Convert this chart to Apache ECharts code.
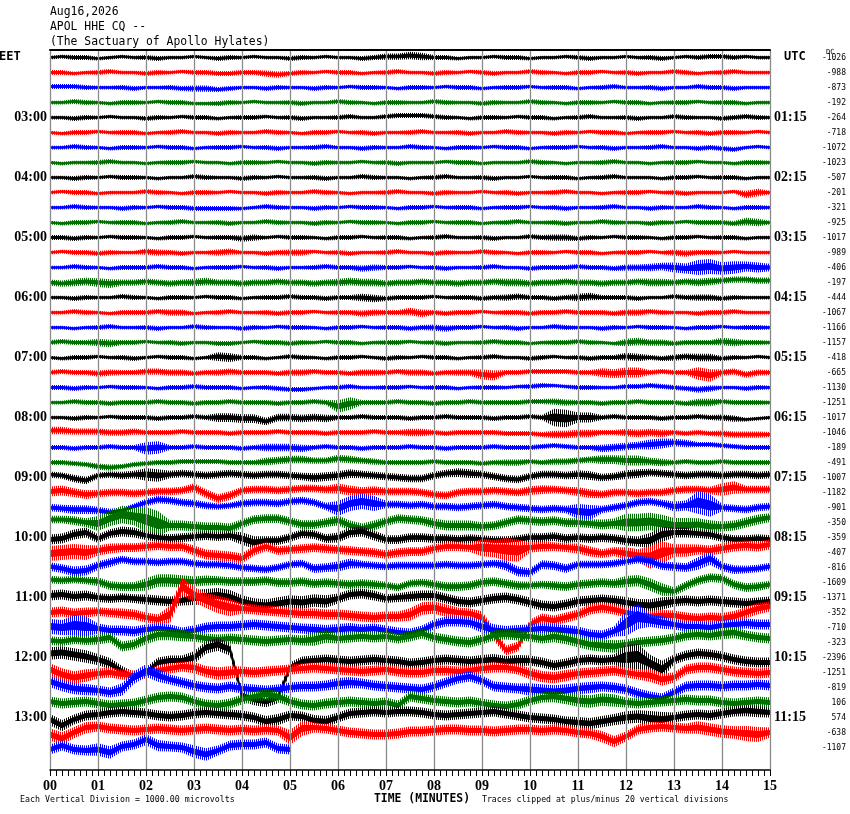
<!DOCTYPE html>
<html>
<head>
<meta charset="utf-8">
<script src="https://cdn.jsdelivr.net/npm/echarts@6/dist/echarts.min.js"></script>
<style>
  html, body { margin: 0; padding: 0; background: #fff; }
  #main { width: 850px; height: 814px; }
</style>
</head>
<body>
<div id="main"></div>
<script>
// helicorder APOL HHE, 15 minute lines, 47 traces from 02:00 EET
var minuteLabels = ['00','01','02','03','04','05','06','07','08','09','10','11','12','13','14','15'];
var eetHours = ['03:00','04:00','05:00','06:00','07:00','08:00','09:00','10:00','11:00','12:00','13:00'];
var utcHours = ['01:15','02:15','03:15','04:15','05:15','06:15','07:15','08:15','09:15','10:15','11:15'];
var dcOffsets = [-1026,-988,-873,-192,-264,-718,-1072,-1023,-507,-201,-321,-925,-1017,-989,-406,-197,
  -444,-1067,-1166,-1157,-418,-665,-1130,-1251,-1017,-1046,-189,-491,-1007,-1182,-901,-350,
  -359,-407,-816,-1609,-1371,-352,-710,-323,-2396,-1251,-819,106,574,-638,-1107];
var traceColors = ['#000000', '#ff0000', '#0000ff', '#006e00'];

// trace centre line, one value every 15 s (screen px, + = down)
var traceMid = [
  [0,-1,0,0,1,0,-1,0,0,1,0,0,-1,0,1,0,0,-1,0,0,1,0,0,-1,0,0,1,0,-1,-1,-2,-1,0,0,1,0,0,-1,0,0,1,0,0,-1,0,1,0,0,-1,0,0,1,0,-1,0,-1,-1,0,-1,0,0],
  [0,0,1,0,0,-1,0,0,1,0,0,-1,0,0,1,1,0,0,1,2,1,0,0,-1,0,0,1,0,0,-1,0,0,1,0,0,-1,0,1,0,0,-1,0,0,1,0,0,-1,0,0,1,0,0,-1,0,1,0,0,-1,0,0,0],
  [-1,-1,-1,0,0,0,0,1,0,0,0,1,1,1,2,1,0,0,1,0,0,0,1,0,0,-1,0,0,0,1,0,0,0,-1,0,0,1,0,0,0,-1,0,0,0,1,0,0,-1,0,0,0,1,0,0,-1,0,0,1,0,0,0],
  [0,0,-1,0,0,1,0,0,0,-1,0,0,1,1,1,0,0,-1,0,0,0,1,0,0,-1,0,0,1,0,0,0,0,-1,0,0,0,1,0,0,0,-1,0,0,1,0,0,0,-1,0,0,1,0,0,0,-1,0,0,0,1,0,0],
  // 03:00
  [0,0,1,0,0,-1,0,0,1,0,0,-1,0,0,1,0,0,0,-1,0,0,1,0,0,0,-1,0,0,-1,-2,-2,-2,-1,0,0,1,0,0,0,-1,0,0,1,0,0,-1,0,0,0,1,0,0,-1,0,0,0,1,0,-1,0,0],
  [0,1,0,0,-1,0,0,0,1,0,0,-1,0,0,1,0,0,0,-1,0,0,1,0,0,-1,0,0,1,0,0,0,-1,0,0,0,1,0,0,-1,0,0,0,1,0,0,-1,0,0,1,0,0,0,-1,0,0,1,0,0,0,-1,0],
  [0,0,-1,0,0,1,0,0,0,-1,0,0,1,0,0,0,-1,0,0,1,0,0,0,-1,0,0,1,0,0,0,-1,0,0,1,0,0,0,-1,0,0,1,0,0,0,-1,0,0,1,0,0,0,-1,0,0,1,0,1,2,0,-1,0],
  [0,1,0,0,0,-1,0,0,1,0,0,0,-1,0,0,1,0,0,0,-1,0,0,1,0,0,0,-1,0,0,1,0,0,0,-1,0,0,1,0,0,0,-1,0,0,1,0,0,0,-1,0,0,1,0,0,0,-1,0,0,1,0,0,0],
  // 04:00
  [0,0,1,0,0,-1,0,0,0,1,0,0,-1,0,0,0,1,0,0,-1,0,0,0,1,0,0,-1,0,0,0,1,0,0,-1,0,0,0,1,0,0,-1,0,0,0,1,0,0,-1,0,0,0,1,0,0,-1,0,0,0,1,0,0],
  [0,-1,0,0,1,0,0,0,-1,0,0,1,0,0,0,-1,0,0,1,0,0,0,-1,0,0,1,0,0,0,-1,0,0,1,0,0,0,-1,0,0,1,0,0,0,-1,0,0,1,0,0,0,-1,0,0,1,0,0,0,-1,2,0,0],
  [0,0,-1,0,0,0,1,0,0,-1,0,0,1,1,1,1,1,0,-1,0,0,0,1,0,0,-1,0,0,0,1,0,0,-1,0,0,0,1,0,0,0,-1,0,0,1,0,0,0,-1,0,0,1,0,0,0,-1,0,0,1,0,0,0],
  [0,1,0,0,-1,0,0,0,1,0,0,-1,0,0,0,1,0,0,-1,0,0,0,1,0,0,-1,0,0,0,1,0,0,-1,0,0,0,1,0,0,-1,0,0,0,1,0,0,-1,0,0,0,1,0,0,-1,0,0,0,1,-1,0,0],
  // 05:00
  [0,0,1,0,0,-1,0,0,0,1,0,0,-1,0,0,0,1,0,0,-1,0,0,0,1,0,0,-1,0,0,0,1,0,0,-1,0,0,0,1,0,0,-1,0,0,0,1,0,0,-1,0,0,0,1,0,0,-1,0,0,0,1,0,0],
  [0,-1,0,0,1,0,0,0,-1,0,0,1,0,0,0,-1,0,0,1,0,0,0,-1,0,0,1,0,0,0,-1,0,0,1,0,0,0,-1,0,0,1,0,0,0,-1,0,0,1,0,0,0,-1,0,0,1,0,0,0,-1,0,0,0],
  [0,0,-1,0,0,1,0,0,0,-1,0,0,1,0,0,0,-1,0,0,1,0,0,0,-1,0,0,1,0,0,0,-1,0,0,1,0,0,0,-1,0,0,1,0,0,0,-1,0,0,1,0,0,0,-1,0,1,0,-1,1,0,-1,0,0],
  [0,1,0,-1,0,1,0,0,-1,0,1,0,0,-1,0,0,1,0,0,-1,0,0,1,0,0,-1,0,0,1,0,0,-1,0,0,1,0,0,-1,0,0,1,0,0,-1,0,0,1,0,0,-1,0,0,0,-1,0,-1,-2,-3,-3,-2,-2],
  // 06:00
  [0,0,1,0,0,0,-1,0,0,1,0,0,0,-1,0,0,1,0,0,0,-1,0,0,1,0,0,0,1,1,0,0,0,-1,0,0,0,1,0,0,-1,0,0,1,0,0,-1,0,0,0,1,0,0,-1,0,0,0,1,0,0,0,0],
  [0,0,-1,0,0,1,0,0,0,-1,0,0,1,0,0,-1,0,0,0,1,0,0,-1,0,0,0,1,0,0,0,-1,1,0,1,0,0,-1,0,0,0,1,0,0,-1,0,0,0,1,0,0,-1,0,0,0,1,0,0,-1,0,0,0],
  [0,0,1,0,0,-1,0,0,0,1,0,0,-1,0,0,0,1,0,0,-1,0,0,0,1,0,0,-1,0,0,0,1,0,0,1,0,0,-1,0,0,1,0,0,-1,0,0,0,1,0,0,-1,0,0,0,1,0,0,-1,0,0,0,0],
  [0,-1,0,0,0,1,0,0,-1,0,0,1,0,0,1,1,0,-1,0,0,1,0,0,-1,0,0,1,0,0,0,-1,0,0,1,0,0,0,-1,0,0,1,0,0,0,-1,0,0,1,0,-1,0,0,1,0,0,0,-1,0,0,0,0],
  // 07:00
  [0,1,0,0,-1,0,0,1,0,-1,0,0,1,0,-1,0,0,0,1,0,-1,0,0,1,0,0,-1,0,1,0,0,-1,0,0,1,0,0,-1,0,0,1,0,-1,0,0,1,0,0,-1,0,0,1,0,-1,0,0,1,0,0,-1,0],
  [0,-1,0,0,1,0,0,0,-1,-1,0,0,1,0,0,-1,0,0,0,1,0,0,-1,0,0,1,0,0,0,-1,0,0,1,0,0,0,2,3,0,0,-1,-1,-1,-1,0,0,0,1,0,0,0,-1,0,0,1,3,0,-1,2,0,0],
  [0,0,1,0,0,-1,0,0,0,1,0,0,-1,0,0,0,1,0,0,1,2,2,1,0,0,-1,0,0,0,0,-1,0,0,0,1,0,0,0,0,-1,-1,-2,-2,-1,0,0,0,0,-1,-1,-2,-1,0,1,2,1,0,0,1,0,0],
  [0,0,-1,0,0,1,0,0,0,-1,0,0,1,0,0,-1,0,0,0,1,0,0,-1,0,4,1,0,0,0,-1,0,0,1,0,0,-1,0,0,0,0,-1,-1,-1,0,0,0,1,0,0,-1,0,0,0,1,0,0,-1,0,0,0,0],
  // 08:00
  [0,0,1,0,0,-1,0,0,0,1,0,0,-1,0,0,0,1,1,4,0,0,1,0,1,0,0,-1,0,0,0,1,0,0,-1,0,0,0,1,0,0,-1,0,0,1,0,0,0,-1,0,0,0,1,0,0,-1,0,0,1,2,1,0],
  [-2,-2,-1,-1,-1,0,0,-1,0,0,0,-1,0,0,0,1,0,0,0,-1,0,0,0,1,0,0,0,-1,0,0,0,0,0,1,0,0,0,0,1,1,1,2,2,2,1,1,0,0,0,1,0,1,0,1,0,1,1,2,2,2,2],
  [0,0,1,0,0,-1,0,0,1,0,0,0,-1,0,0,0,1,0,0,0,0,1,0,-1,0,0,1,0,0,0,-1,0,0,1,0,0,0,-1,0,0,0,-1,-2,-1,0,0,1,0,-1,-2,-3,-4,-5,-4,-3,-3,-2,-1,0,0,0],
  [0,0,1,2,4,5,4,2,1,0,0,-1,-1,-1,-1,0,0,0,-1,-2,-3,-3,-2,-2,-4,-3,-2,-1,0,0,0,0,-1,0,0,0,1,0,0,0,-1,0,-1,-1,-2,-3,-3,-3,-2,-2,-1,0,0,-1,0,0,-1,0,0,0,0],
  // 09:00
  [-3,-2,1,3,-2,-3,-2,-3,-3,-2,-3,-4,-3,-2,-3,-4,-3,-2,-3,-3,-2,-1,0,-1,-2,-4,-3,-2,-1,0,1,1,-2,-4,-5,-4,-3,-1,1,2,-1,-3,-3,-2,-3,-2,0,-1,-3,-4,-5,-4,-3,-2,-3,-3,-2,-3,-3,-2,-3],
  [-1,-2,0,2,1,0,0,1,0,-1,-1,-2,-5,1,6,3,-2,-3,-3,-2,-3,-4,-4,-3,-4,-2,-1,-2,-1,-1,-1,0,2,3,0,-1,-1,-2,-1,0,-2,-3,-3,-2,-1,1,2,0,0,1,0,0,-2,-3,-3,-2,-3,-5,-3,-3,-3],
  [0,1,2,2,3,5,3,-1,-5,-8,-7,-5,-4,-2,-1,-2,-4,-5,-5,-4,-6,-7,-5,-1,1,-4,-6,-4,-3,-3,-2,-3,-1,-1,0,-1,-2,-3,-1,0,1,2,1,2,4,5,2,0,-2,-5,-6,-4,-1,-2,-5,-2,0,1,2,0,-1],
  [-3,-3,-2,0,1,-4,-8,-6,-3,1,3,3,4,5,5,6,1,-3,-4,-4,-1,2,2,0,-2,3,6,3,-1,-4,-3,-2,1,3,3,3,4,3,0,-3,-2,-1,-2,0,0,1,2,1,0,0,-1,1,3,3,2,4,4,3,0,-3,-5],
  // 10:00
  [2,1,-3,-5,1,-4,-6,-5,-2,0,1,0,-1,-2,-1,-2,1,5,3,3,0,-4,-3,1,0,-5,-6,-2,2,2,0,0,1,1,2,1,2,3,3,2,0,0,-1,1,0,1,0,1,3,4,3,-3,-5,-5,-4,-3,0,2,2,1,2],
  [1,0,-1,0,-2,-4,-5,-5,-6,-7,-6,-6,-2,2,3,4,6,-2,-6,-2,-3,-4,-5,-4,-3,-2,-1,0,2,0,-1,-1,-4,-6,-6,-5,-5,-4,-3,-2,-5,-6,-6,-5,-4,-1,1,-1,1,3,5,0,-2,-2,-3,-2,-4,-6,-7,-6,-8],
  [-1,1,4,3,-2,-5,-8,-6,-6,-5,-6,-6,-4,-3,-3,-2,0,1,2,0,-3,-4,1,0,-1,-4,-3,-2,-1,-2,-2,-2,-2,-3,-2,-2,-3,-4,-2,4,5,-3,-2,1,-3,-3,-3,-4,-6,-8,-6,-2,-1,0,-4,-9,-1,2,2,1,-1],
  [-3,-2,-3,-2,-1,3,4,4,2,-2,-2,-1,-1,-2,-2,-1,-1,-1,-2,0,0,-1,1,0,1,2,1,2,3,5,1,0,2,4,4,3,0,-1,1,3,3,2,3,4,2,1,0,1,-1,-2,2,7,9,3,-2,-5,-4,2,5,4,2],
  // 11:00
  [-2,-3,-1,-2,0,1,0,1,2,3,4,3,0,-1,-2,0,4,7,8,6,4,5,3,4,1,-3,-4,-2,1,0,-1,-2,-2,1,4,5,3,1,0,2,5,8,9,7,4,3,2,3,5,7,8,6,4,3,4,3,4,5,6,5,4],
  [0,-1,1,0,-1,0,1,2,5,7,2,-26,-18,-12,-8,-5,-4,-3,-2,-1,0,1,1,2,2,3,4,5,4,4,2,-4,-5,-2,0,1,5,22,38,34,12,6,8,5,2,-3,-5,-3,0,2,4,3,3,5,6,5,6,4,0,-4,-6],
  [-1,0,-2,-1,1,3,3,4,2,1,2,5,3,0,-1,-1,-2,-3,-2,-1,0,1,2,3,2,1,2,1,3,5,6,3,-3,-6,-6,-5,-1,3,4,3,2,1,2,3,4,7,8,4,-4,-11,-7,-5,-3,-1,-1,0,-2,-3,-4,-3,-3],
  [-2,-1,-3,-2,-3,-5,4,2,-4,-8,-8,-7,-6,-4,-3,-4,-3,-2,-1,-2,-3,-2,-3,-6,-4,-5,-6,-5,-6,-4,-6,-9,-5,-3,-1,0,-3,-7,-8,-7,-6,-4,-6,-4,-1,2,3,4,2,0,-1,-2,-4,-7,-8,-7,-9,-10,-7,-5,-4],
  // 12:00
  [-4,-5,-3,-1,2,6,14,20,15,5,3,3,0,-10,-13,-8,38,42,44,40,10,4,3,2,3,4,3,2,3,4,6,5,3,2,3,4,3,2,4,3,3,5,8,6,3,2,3,2,0,-1,6,12,2,-2,-4,-3,-1,2,4,5,5],
  [-3,2,5,3,1,0,2,3,1,-2,-4,-6,-5,-1,1,0,-1,0,-1,-2,-3,-4,-5,-4,-3,-2,-1,-2,-3,-1,0,0,-2,-2,-1,-2,-4,-5,-5,-3,1,4,5,3,1,0,-1,-2,0,2,3,7,5,-3,-5,-5,-3,-1,0,1,0],
  [-6,-2,1,2,3,5,2,-10,-17,-12,-8,-5,-2,0,1,-1,1,2,3,2,0,-1,-1,-2,-4,-5,-4,-2,-1,0,1,2,-1,-5,-9,-11,-7,-1,0,1,2,3,4,3,1,0,-1,0,2,6,9,11,5,-1,-2,-2,-1,-2,-2,-3,-2],
  [-1,1,0,-1,1,3,2,1,-2,-5,-6,-5,-1,2,3,1,-3,-6,-8,-6,-1,2,3,1,0,-1,0,1,0,3,-6,-4,-2,-1,0,-1,1,3,4,2,-2,-5,-6,-4,-2,-1,-3,-2,0,1,0,-1,-2,-3,-2,-2,0,1,0,-1,0],
  // 13:00
  [2,8,2,-2,-3,-5,-6,-5,-4,-2,-1,-2,-4,-5,-4,-3,-2,0,4,2,-2,-1,3,4,0,-4,-5,-6,-5,-6,-6,-5,-3,-2,-3,-4,-5,-6,-4,-2,0,1,2,4,5,6,4,2,0,-1,1,2,0,-2,-3,-2,-4,-6,-7,-6,-5],
  [2,6,0,-5,-6,-4,-3,-2,-3,-4,-3,-2,-3,-4,-3,-2,-3,-2,-3,-2,5,-4,-5,-4,-2,0,1,2,2,1,-1,-1,-2,-3,-3,-2,-2,-1,-2,-3,-3,-2,-3,-2,0,1,4,9,4,-3,-5,-6,-5,-4,-5,-3,-1,0,1,2,0],
  [2,-2,2,3,2,5,-1,-3,-8,-2,-1,0,4,7,3,-2,-3,-3,-5,1,2]
];

// half thickness of the noise band, one value every 30 s
var traceAmp = [
  [1.5,2,1.5,1.5,2,1.5,1.5,2,1.5,1.5,2,1.5,1.5,2,2.5,3,2,1.5,1.5,2,1.5,1.5,2,1.5,1.5,2,1.5,2,2,1.5,1.5],
  [2,1.5,2,1.5,2,1.5,2,2,2,2.5,2,1.5,2,1.5,2,1.5,2,1.5,2,1.5,2,1.5,2,1.5,2,1.5,2,1.5,2,1.5,1.5],
  [2,2,1.5,2,1.5,2,2.5,2,1.5,2,1.5,2,1.5,2,1.5,2,1.5,2,1.5,2,1.5,2,1.5,2,1.5,2,1.5,2,2,1.5,1.5],
  [1.5,2,1.5,2,1.5,2,1.5,2,1.5,1.5,2,1.5,2,1.5,2,1.5,2,1.5,2,1.5,2,1.5,2,1.5,2,1.5,2,1.5,2,1.5,1.5],
  [1.5,2,1.5,1.5,2,1.5,2,1.5,2,1.5,2,1.5,2,1.5,2,2,2,1.5,2,1.5,2,1.5,2,1.5,2,1.5,2,1.5,2,2,1.5],
  [1.5,2,1.5,2,1.5,2,1.5,2,1.5,2,1.5,2,1.5,2,1.5,2,1.5,2,1.5,2,1.5,2,1.5,2,1.5,2,1.5,2,2,1.5,1.5],
  [1.5,2,1.5,2,1.5,2,1.5,2,1.5,2,1.5,2,1.5,2,1.5,2,1.5,2,1.5,2,1.5,2,1.5,2,1.5,2,1.5,2,2,1.5,1.5],
  [1.5,1.5,2,1.5,1.5,2,1.5,1.5,2,1.5,1.5,2,1.5,1.5,2,1.5,1.5,2,1.5,1.5,2,1.5,1.5,2,1.5,1.5,2,1.5,1.5,2,1.5],
  [1.5,2,1.5,2,1.5,1.5,2,1.5,2,1.5,1.5,2,1.5,2,1.5,1.5,2,1.5,2,1.5,1.5,2,1.5,2,1.5,1.5,2,1.5,2,1.5,1.5],
  [1.5,2,1.5,1.5,2,1.5,2,1.5,1.5,2,1.5,2,1.5,1.5,2,1.5,2,1.5,1.5,2,1.5,2,1.5,1.5,2,1.5,2,1.5,1.5,3,1.5],
  [1.5,2,1.5,2,1.5,2,2,2,1.5,2,1.5,2,1.5,2,1.5,2,1.5,2,1.5,2,1.5,2,1.5,2,1.5,2,1.5,2,1.5,2,1.5],
  [1.5,2,1.5,2,1.5,2,1.5,2,1.5,2,1.5,2,1.5,2,1.5,2,1.5,2,1.5,2,1.5,2,1.5,2,1.5,2,1.5,2,2,3,1.5],
  [2,2,1.5,2,1.5,2,1.5,2,2.5,1.5,2,1.5,2,1.5,2,1.5,2,1.5,2,1.5,2,2.5,2,1.5,2,1.5,2,1.5,2,1.5,1.5],
  [1.5,2,2,1.5,2.5,2,1.5,2.5,1.5,2,2.5,1.5,2,1.5,2,1.5,2,1.5,2,1.5,2,1.5,2,1.5,2,1.5,2.5,2,1.5,1.5,1.5],
  [1.5,2,1.5,2,2,2,1.5,2,1.5,2,1.5,2,2,2.5,2,1.5,2,1.5,2,1.5,2,2,2,2,2.5,3,4,6,5,4,3],
  [2.5,3,3.5,2.5,2.5,2.5,3,2.5,2.5,2.5,2.5,2.5,3,3,2.5,2.5,2.5,2.5,2.5,3,2.5,2.5,2.5,2.5,2.5,3,2.5,3,2.5,2.5,2.5],
  [1.5,2,1.5,2,1.5,2,1.5,2,1.5,2,2,2,2,3,2,2,1.5,2,2,2.5,2,2,3,2,2,1.5,2,2.5,2,1.5,1.5],
  [1.5,2,1.5,2,2,2.5,1.5,2,1.5,2,2,1.5,2,2.5,2,3,2,2,1.5,2,2,2,2,2,2.5,2,1.5,2,2,1.5,1.5],
  [1.5,1.5,2,1.5,2,1.5,2,1.5,2,1.5,2,1.5,2,1.5,2,2,2.5,2,1.5,2,1.5,2,1.5,2,1.5,2,1.5,2,1.5,2,1.5],
  [2,2,3,2,1.5,2,1.5,2,1.5,2,2,1.5,2,1.5,2,1.5,2,1.5,2,2,1.5,2,2,1.5,3,2.5,2,2,3,2,1.5],
  [1.5,2,1.5,2,1.5,2,1.5,3.5,2,1.5,2,1.5,2,1.5,2,1.5,2,1.5,2,1.5,2,1.5,2,2,3,2,2.5,3,2,1.5,1.5],
  [2,2,2.5,2,2.5,2.5,2,2.5,2,2,2.5,2,2,2.5,2,2.5,2,2.5,4,2,2,2,2,3.5,4,2,2,5,2.5,2.5,2],
  [2,2,1.5,2,1.5,2,2,2,1.5,2,2,1.5,2,1.5,2,1.5,2,1.5,2,1.5,2,1.5,2,1.5,2,2,2,2.5,1.5,2,1.5],
  [1.5,2,2,2,2,2,2,2,2,2,2,2,5,2,2,2,2,2,2,2,2,2.5,2,2,2,2,2,3,2,2,1.5],
  [1.5,2,1.5,2,2,2,2,3.5,3.5,3,3,3,2,2,2,2,2,2,2,2,2,7,4,2,2,2,2,2,2.5,1.5,1.5],
  [3,2.5,2.5,2.5,2,2,2,2,2,2,2,2,2,2,2,3,2,2,2,2,2,3,3,2,3,3,2,2,2.5,2.5,2],
  [2,2,2,2,5,2,2,2,2,3,3,2,2,2,2,2,2,2,2,2,2,2,2,3,3,4,3,2,2,2,2],
  [2,2,2.5,2,2,2,2,2,2,3,3,2.5,3,2.5,2,2,2,2,2,2.5,2,2.5,2.5,3.5,4,3,2,2,2,2,2],
  [2.5,3,2.5,3,5,3,3,3,3,3,3,3.5,3.5,3,3,3,3,3.5,3,3,3,3,3.5,3,3.5,3,3,3,3,3,3],
  [4,3.5,3,3,3,3,3.5,3.5,3,3,3,3,4,3.5,3,3,3,3,3,3,3.5,3,3.5,3,3,3,3,3,5,3,3],
  [3,3.5,3,2.5,3,3,3,2.5,3,3,3,3,6,6,3,3,3,3,3,3,3,3,6,3,3,3,4,9,3,3,3],
  [3,3.5,6,7,10,4,4,4,3.5,3.5,3.5,3.5,4,4,3.5,3.5,4,4,3.5,3.5,3.5,3.5,3.5,4,7,7,6,5,4,4,3.5],
  [4,4,3.5,4,3.5,3.5,3.5,3.5,5,3.5,3.5,3.5,4,4,3.5,3.5,3.5,3.5,3.5,3.5,3.5,3.5,3.5,3.5,4,6,4,3.5,3.5,3.5,3.5],
  [6,6,4,3.5,3.5,3.5,4,4,4,3.5,3.5,3.5,3.5,3.5,3.5,3.5,3.5,3.5,7,9,4,3.5,4,3.5,5,9,5,4,4,4,4],
  [3.5,4,3.5,3,3,3,3,3,3,3,3,3.5,4,3,3,3,3,3,3,4,3.5,3.5,3,3,3,3.5,3.5,5,3.5,3,3],
  [3,3,3.5,3.5,5,5,4,3.5,3.5,3.5,3.5,3.5,3.5,3.5,3,3,3.5,3.5,3.5,3.5,3,3.5,3.5,3.5,4.5,5,3.5,3.5,3.5,3.5,3],
  [4,4,3.5,3.5,4,4,6,6,5,5,5,5,4,4,3.5,4,4,4,4,4,4,4,4,4,4.5,5,4,4,4,4,4],
  [4,4,3.5,4,4,7,6,7,4,4,4,4,4,4,4,5,5,4,5,4,4,4,4,4,4,4.5,4,4,4.5,4.5,4],
  [6,8,4,4,4,4,4,4,4,4,4,4.5,4.5,4,4,4,4,4,5,4.5,4,4.5,4,4,10,5,4,4,4,4,4],
  [3.5,3.5,4,4,4.5,4.5,4,4,4,4,4,5,4,4,4,4,4,4,4,4,4,4.5,4.5,5,4,4,4,4,4.5,4,4],
  [5,5,4.5,4.5,4,4,5,5,4.5,4.5,4,4,4,4,4,4,4,4,4.5,4.5,4,4,4,4,10,7,4,4,4,4,4],
  [5,5,4,4,4,4,4.5,5,4,4,4,4,4,4,4,4,4,4,4,4,4.5,4.5,4,4,4,5,4,4,4,4,4],
  [4.5,4.5,4,5,5,4,4,4,4,4,4,4,4.5,4,4,4,4,4,4,4,5,5,4.5,4,4,4,4,4,4,4,4],
  [4,4,4,4,4,4,4,4,4,4.5,4,4,4,4,4,4,4,4,4,4,4,4.5,5,5,4,4,4,4,4,4,4],
  [4.5,4,4,4,4,4,4,4,4,4.5,4,4.5,4,4,4,4,4,4,4,4,4,4,4.5,4.5,5,6,4,4,4,4.5,4],
  [5,4.5,4,4,4,4,4,4,4,4,6,4,4,4,4,4,4,4,4,4,4,4,4,4.5,4,4,4,5,5,6,4],
  [4,4,5,4,4.5,4,5,4,4,4,4]
];

var sampleStep = 0.25;   // minutes between centre samples
var traceGap = 15;       // value units between trace baselines
var rowCount = 48;
var coreScale = 0.5;     // solid core of the band
var haloScale = 1.25;    // striped fringe of spikes

var rowIds = [];
for (var r = 0; r < rowCount; r++) rowIds.push('r' + r);

// vertical hairline texture, looks like dense seismic spikes
function stripes(color) {
  var cv = document.createElement('canvas');
  cv.width = 2; cv.height = 1;
  var ctx = cv.getContext('2d');
  ctx.fillStyle = color;
  ctx.fillRect(0, 0, 1, 1);
  return { image: cv, repeat: 'repeat' };
}
var traceFringe = traceColors.map(stripes);

var myChart = echarts.init(document.getElementById('main'));

var labelFont = 'Liberation Serif';
var monoFont = 'DejaVu Sans Mono';

function bandPoints(api, k, scale) {
  var mid = traceMid[k], amp = traceAmp[k];
  var upper = [], lower = [];
  for (var i = 0; i < mid.length; i++) {
    var a = amp[Math.floor(i / 2)] * scale;
    var base = k * traceGap + mid[i];
    upper.push(api.coord([i * sampleStep, base - a]));
    lower.push(api.coord([i * sampleStep, base + a]));
  }
  return upper.concat(lower.reverse());
}

var option = {
  backgroundColor: '#ffffff',
  animation: false,
  grid: { left: 50, right: 80, top: 50, bottom: 44, containLabel: false },
  xAxis: [
    {
      type: 'value', min: 0, max: 15, interval: 1, position: 'bottom', z: 3,
      axisLine: { onZero: false, lineStyle: { color: '#000', width: 1.5 } },
      axisTick: { length: 6, lineStyle: { color: '#000', width: 1 } },
      minorTick: { show: true, splitNumber: 8, length: 6, lineStyle: { color: '#000', width: 1 } },
      splitLine: { show: true, lineStyle: { color: '#8a8a8a', width: 1.3 } },
      axisLabel: {
        margin: 9, color: '#000', fontFamily: labelFont, fontWeight: 'bold', fontSize: 14,
        formatter: function (v) { return minuteLabels[v]; }
      }
    },
    {
      type: 'value', min: 0, max: 15, interval: 1, position: 'top', z: 3,
      axisLine: { onZero: false, lineStyle: { color: '#000', width: 2 } },
      axisTick: { show: false }, minorTick: { show: false },
      axisLabel: { show: false }, splitLine: { show: false }
    }
  ],
  yAxis: [
    { type: 'value', min: -7.5, max: (rowCount - 0.5) * traceGap, inverse: true, show: false },
    {
      type: 'category', data: rowIds, inverse: true, position: 'left',
      axisLine: { show: false }, axisTick: { show: false }, splitLine: { show: false },
      axisLabel: {
        interval: 0, margin: 3, color: '#000', fontFamily: labelFont, fontWeight: 'bold', fontSize: 14,
        formatter: function (v, idx) {
          return (idx % 4 === 0 && idx > 0 && eetHours[idx / 4 - 1]) ? eetHours[idx / 4 - 1] : '';
        }
      }
    },
    {
      type: 'category', data: rowIds, inverse: true, position: 'right',
      axisLine: { show: false }, axisTick: { show: false }, splitLine: { show: false },
      axisLabel: {
        interval: 0, margin: 4, color: '#000', fontFamily: labelFont, fontWeight: 'bold', fontSize: 14,
        formatter: function (v, idx) {
          return (idx % 4 === 0 && idx > 0 && utcHours[idx / 4 - 1]) ? utcHours[idx / 4 - 1] : '';
        }
      }
    },
    {
      type: 'category', data: rowIds, inverse: true, position: 'right',
      axisLine: { show: false }, axisTick: { show: false }, splitLine: { show: false },
      axisLabel: {
        interval: 0, margin: 76, align: 'right', color: '#000', fontFamily: monoFont, fontSize: 8,
        formatter: function (v, idx) {
          return dcOffsets[idx] !== undefined ? String(dcOffsets[idx]) : '';
        }
      }
    }
  ],
  graphic: [
    { type: 'text', x: 50, y: 12, style: { text: 'Aug16,2026', font: '11.4px "DejaVu Sans Mono"', fill: '#000', verticalAlign: 'middle' } },
    { type: 'text', x: 50, y: 27, style: { text: 'APOL HHE CQ --', font: '11.4px "DejaVu Sans Mono"', fill: '#000', verticalAlign: 'middle' } },
    { type: 'text', x: 50, y: 42, style: { text: '(The Sactuary of Apollo Hylates)', font: '11.4px "DejaVu Sans Mono"', fill: '#000', verticalAlign: 'middle' } },
    { type: 'text', x: -1, y: 57, style: { text: 'EET', font: 'bold 12px "DejaVu Sans Mono"', fill: '#000', verticalAlign: 'middle' } },
    { type: 'text', x: 784, y: 57, style: { text: 'UTC', font: 'bold 12px "DejaVu Sans Mono"', fill: '#000', verticalAlign: 'middle' } },
    { type: 'text', x: 826, y: 52, style: { text: 'DC', font: '7px "DejaVu Sans Mono"', fill: '#000', verticalAlign: 'middle' } },
    { type: 'text', x: 422, y: 799, style: { text: 'TIME (MINUTES)', font: 'bold 11.4px "DejaVu Sans Mono"', fill: '#000', align: 'center', verticalAlign: 'middle' } },
    { type: 'text', x: 20, y: 800, style: { text: 'Each Vertical Division = 1000.00 microvolts', font: '8.3px "DejaVu Sans Mono"', fill: '#000', verticalAlign: 'middle' } },
    { type: 'text', x: 482, y: 800, style: { text: 'Traces clipped at plus/minus 20 vertical divisions', font: '8.2px "DejaVu Sans Mono"', fill: '#000', verticalAlign: 'middle' } }
  ],
  series: [{
    type: 'custom',
    coordinateSystem: 'cartesian2d',
    xAxisIndex: 0,
    yAxisIndex: 0,
    clip: true,
    z: 1,
    data: traceMid.map(function (m, k) { return [0, k * traceGap]; }),
    encode: { x: 0, y: 1 },
    renderItem: function (params, api) {
      var k = params.dataIndex;
      var c = traceColors[k % 4];
      return {
        type: 'group',
        children: [
          { type: 'polygon', shape: { points: bandPoints(api, k, haloScale) },
            style: { fill: traceFringe[k % 4] } },
          { type: 'polygon', shape: { points: bandPoints(api, k, coreScale) },
            style: { fill: c, stroke: c, lineWidth: 1 } }
        ]
      };
    }
  }]
};

myChart.setOption(option);
</script>
</body>
</html>
